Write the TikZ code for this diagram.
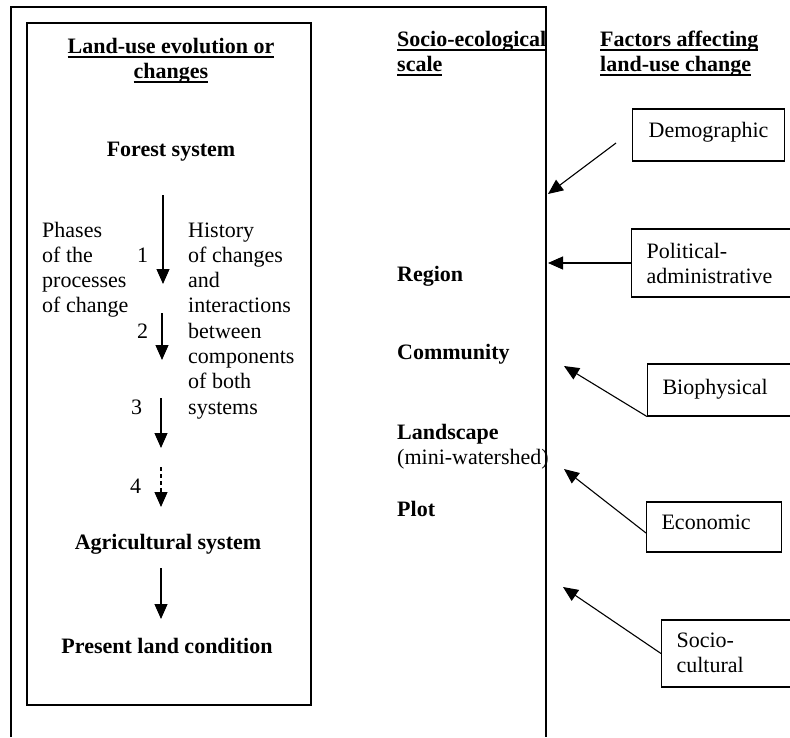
\documentclass[tikz,border=0pt]{standalone}
\usepackage{fontspec}
\setmainfont{Liberation Serif}
\usetikzlibrary{arrows.meta}
\newcommand\ulx[1]{\setbox0\hbox{#1}\rlap{\raisebox{-4.5pt}{\rule{\wd0}{1.5pt}}}\box0}
\begin{document}
\begin{tikzpicture}[x=1pt,y=-1pt,
  every node/.style={inner sep=0pt, font=\fontsize{22}{25.3}\selectfont},
  txt/.style={anchor=base west},
  hd/.style={anchor=base, font=\fontsize{22}{26}\selectfont\bfseries},
  bld/.style={anchor=base west, font=\fontsize{22}{26}\selectfont\bfseries},
  frame/.style={line width=1.2pt},
  fbox/.style={draw, line width=1.1pt, anchor=base west, inner xsep=15pt, inner ysep=0pt},
  arr/.style={line width=1.1pt, -{Triangle[length=15pt,width=13pt]}},
]
\useasboundingbox (0,0) rectangle (790,737);
\clip (0,0) rectangle (790,737);

% outer frame (open at the bottom) and inner box
\draw[frame] (11,737) -- (11,7) -- (546,7) -- (546,737);
\draw[frame] (27,23) rectangle (311,705);

% left column headings and stages
\node[hd] (h1a) at (171,53) {\ulx{Land-use evolution or}};
\node[hd] (h1b) at (171,78) {\ulx{changes}};
\node[hd] (forest) at (171,156) {Forest system};
\node[hd] (agri) at (168,549) {Agricultural system};
\node[hd] (present) at (167,653) {Present land condition};

\node[txt] (phases) at (42,237) {\vtop{\hbox{Phases}\hbox{of the}\hbox{processes}\hbox{of change}}};
\node[txt] (history) at (188,237) {\vtop{\hbox{History}\hbox{of changes}\hbox{and}\hbox{interactions}\hbox{between}\hbox{components}\hbox{of both}\hbox{systems}}};
\node[txt] (n1) at (137,262) {1};
\node[txt] (n2) at (137,338) {2};
\node[txt] (n3) at (131,414) {3};
\node[txt] (n4) at (130,493) {4};

\coordinate (a1s) at (163,195); \coordinate (a1e) at (163,284);
\coordinate (a2s) at (162,313); \coordinate (a2e) at (162,360);
\coordinate (a3s) at (161,398); \coordinate (a3e) at (161,448);
\coordinate (a4s) at (161,467); \coordinate (a4e) at (161,507);
\coordinate (a5s) at (161,568); \coordinate (a5e) at (161,619);
\draw[arr] (a1s) -- (a1e);
\draw[arr] (a2s) -- (a2e);
\draw[arr] (a3s) -- (a3e);
\draw[arr, dash pattern=on 4pt off 3pt] (a4s) -- (a4e);
\draw[arr] (a5s) -- (a5e);

% middle column
\node[bld] (s1) at (397,46) {\ulx{Socio-ecological}};
\node[bld] (s2) at (397,71) {\ulx{scale}};
\node[bld] (region) at (397,281) {Region};
\node[bld] (community) at (397,359) {Community};
\node[bld] (landscape) at (397,439) {Landscape};
\node[txt] (mini) at (397,464) {(mini-watershed)};
\node[bld] (plot) at (397,516) {Plot};

% right column
\node[bld] (f1) at (600,46) {\ulx{Factors affecting}};
\node[bld] (f2) at (600,71) {\ulx{land-use change}};

\node[fbox, inner xsep=0pt, minimum width=152pt, text height=28pt, text depth=24pt] (demo) at (632,137) {Demographic};
\node[fbox, text height=29.5pt, text depth=38.5pt] (polit) at (631,258.5) {\hbox to 170pt{\vtop{\hbox{Political-}\hbox{administrative}}\hss}};
\node[fbox, text height=30pt, text depth=22pt] (bio) at (647,394) {\hbox to 170pt{Biophysical\hss}};
\node[fbox, text height=27.5pt, text depth=22.5pt] (econ) at (646,529.5) {\hbox to 105pt{Economic\hss}};
\node[fbox, text height=27pt, text depth=40pt] (socio) at (661,647) {\hbox to 170pt{\vtop{\hbox{Socio-}\hbox{cultural}}\hss}};

\coordinate (demoTip) at (548,194);
\coordinate (politTip) at (548,263);
\coordinate (bioTip) at (564,366);
\coordinate (econTip) at (564,469);
\coordinate (socioTip) at (563,587);
\draw[arr] ([xshift=-16pt,yshift=-8pt]demo.west) -- (demoTip);
\draw[arr] (polit.west) -- (politTip);
\draw[arr] (bio.south west) -- (bioTip);
\draw[arr] ([yshift=-6pt]econ.west) -- (econTip);
\draw[arr] (socio.west) -- (socioTip);
\end{tikzpicture}
\end{document}
